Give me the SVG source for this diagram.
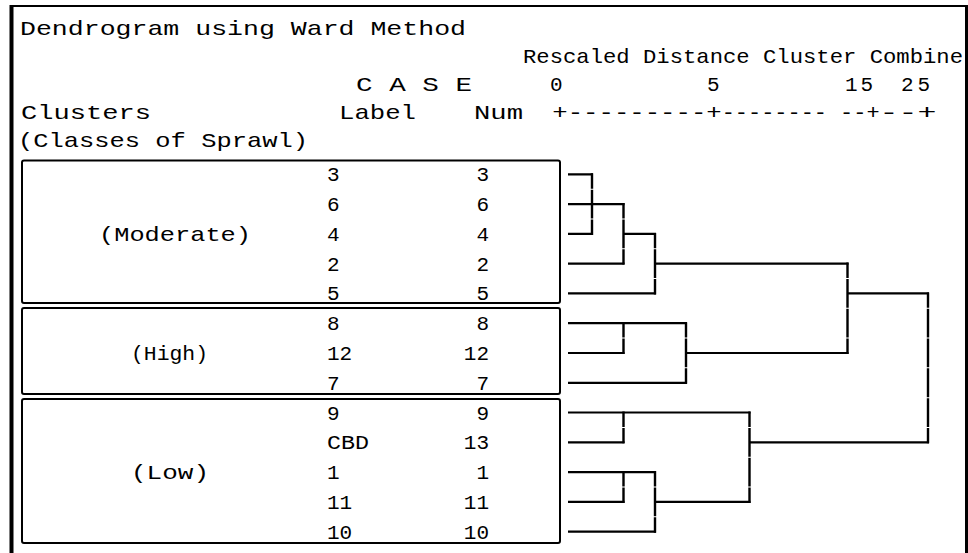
<svg xmlns="http://www.w3.org/2000/svg" width="968" height="553" viewBox="0 0 968 553">
  <style>
    text { font-family: "Liberation Mono", "DejaVu Sans Mono", monospace; font-size: 21px; fill: #000; }
    .frame { fill: none; stroke: #000; }
    .box { fill: none; stroke: #000; stroke-width: 2; }
    .h { fill: none; stroke: #000; stroke-width: 2.2; }
    .v { fill: none; stroke: #000; stroke-width: 2.4; stroke-dasharray: 28.78 1; stroke-dashoffset: 13.39; }
  </style>
  <rect width="968" height="553" fill="#fff"/>

  <!-- outer frame (open at the bottom) -->
  <g id="frame">
    <line class="frame" x1="10" y1="6" x2="967" y2="6" stroke-width="2"/>
    <line class="frame" x1="11.5" y1="5" x2="11.5" y2="553" stroke-width="4"/>
    <line class="frame" x1="966.5" y1="5" x2="966.5" y2="553" stroke-width="3"/>
  </g>

  <!-- headings -->
  <g id="header">
    <text x="20" y="35" textLength="446" lengthAdjust="spacingAndGlyphs">Dendrogram using Ward Method</text>
    <text x="523" y="63" textLength="440" lengthAdjust="spacingAndGlyphs">Rescaled Distance Cluster Combine</text>
    <text x="356" y="91" textLength="116" lengthAdjust="spacingAndGlyphs">C A S E</text>
    <text x="550" y="91">0</text>
    <text x="707" y="91">5</text>
    <text x="845" y="91" textLength="28">15</text>
    <text x="901" y="91" textLength="29">25</text>
    <text x="21" y="119" textLength="130" lengthAdjust="spacingAndGlyphs">Clusters</text>
    <text x="339" y="119" textLength="77" lengthAdjust="spacingAndGlyphs">Label</text>
    <text x="474" y="119" textLength="49" lengthAdjust="spacingAndGlyphs">Num</text>
    <text x="552.3" y="119" textLength="169.4" lengthAdjust="spacingAndGlyphs">+---------+</text>
    <text x="721.7" y="119" textLength="157.9" lengthAdjust="spacingAndGlyphs">-------- --+</text>
    <text x="879.6" y="119" textLength="56.9" lengthAdjust="spacingAndGlyphs">--+</text>
    <text x="18" y="147" textLength="290" lengthAdjust="spacingAndGlyphs">(Classes of Sprawl)</text>
  </g>

  <!-- cluster: Moderate -->
  <g id="cluster-moderate">
    <rect class="box" x="22" y="160.5" width="538" height="142.5" rx="2"/>
    <text x="99" y="241" textLength="152" lengthAdjust="spacingAndGlyphs">(Moderate)</text>
    <text x="327" y="181.3">3</text><text x="489" y="181.3" text-anchor="end">3</text>
    <text x="327" y="211.1">6</text><text x="489" y="211.1" text-anchor="end">6</text>
    <text x="327" y="240.9">4</text><text x="489" y="240.9" text-anchor="end">4</text>
    <text x="327" y="270.6">2</text><text x="489" y="270.6" text-anchor="end">2</text>
    <text x="327" y="300.4">5</text><text x="489" y="300.4" text-anchor="end">5</text>
  </g>

  <!-- cluster: High -->
  <g id="cluster-high">
    <rect class="box" x="22" y="308" width="538" height="86" rx="2"/>
    <text x="131" y="360" textLength="77" lengthAdjust="spacingAndGlyphs">(High)</text>
    <text x="327" y="330.2">8</text><text x="489" y="330.2" text-anchor="end">8</text>
    <text x="327" y="360">12</text><text x="489" y="360" text-anchor="end">12</text>
    <text x="327" y="389.8">7</text><text x="489" y="389.8" text-anchor="end">7</text>
  </g>

  <!-- cluster: Low -->
  <g id="cluster-low">
    <rect class="box" x="22" y="399" width="538" height="144" rx="2"/>
    <text x="131" y="479" textLength="78" lengthAdjust="spacingAndGlyphs">(Low)</text>
    <text x="327" y="419.5">9</text><text x="489" y="419.5" text-anchor="end">9</text>
    <text x="327" y="449.3" textLength="42" lengthAdjust="spacingAndGlyphs">CBD</text><text x="489" y="449.3" text-anchor="end">13</text>
    <text x="327" y="479.1">1</text><text x="489" y="479.1" text-anchor="end">1</text>
    <text x="327" y="508.9">11</text><text x="489" y="508.9" text-anchor="end">11</text>
    <text x="327" y="538.7">10</text><text x="489" y="538.7" text-anchor="end">10</text>
  </g>

  <!-- dendrogram links -->
  <g id="connectors">
    <!-- Moderate -->
    <path class="h" d="M568 174.3H593 M568 204.1H624.5 M568 233.9H593 M568 263.6H624.5 M623.5 233.9H656 M568 293.4H656 M655 263.6H848.5"/>
    <path class="v" d="M592 173.3V234.9"/>
    <path class="v" d="M623.5 203.1V264.6"/>
    <path class="v" d="M655 232.9V294.4"/>
    <!-- High -->
    <path class="h" d="M568 323.2H687 M568 353H624.5 M568 382.8H687 M686 353H848.5"/>
    <path class="v" d="M623.5 322.2V354"/>
    <path class="v" d="M686 322.2V383.8"/>
    <!-- Moderate + High -->
    <path class="v" d="M847.5 262.6V354"/>
    <path class="h" d="M847.5 293.4H929"/>
    <!-- Low -->
    <path class="h" d="M568 412.5H750.5 M568 442.3H624.5 M568 472.1H656 M568 501.9H624.5 M568 531.7H656 M655 501.9H750.5 M749.5 442.3H929"/>
    <path class="v" d="M623.5 411.5V443.3"/>
    <path class="v" d="M623.5 471.1V502.9"/>
    <path class="v" d="M655 471.1V532.7"/>
    <path class="v" d="M749.5 411.5V502.9"/>
    <!-- root -->
    <path class="v" d="M928 292.4V443.3"/>
  </g>
</svg>
